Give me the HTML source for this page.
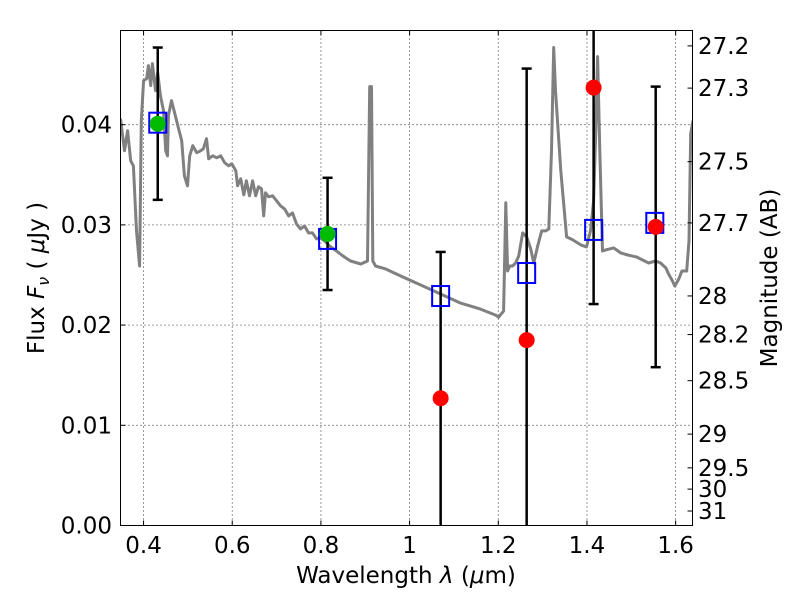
<!DOCTYPE html>
<html><head><meta charset="utf-8"><style>
body{margin:0;background:#fff;}
svg text{font-family:"DejaVu Sans","Liberation Sans",sans-serif;font-size:23px;fill:#000;}
</style></head><body>
<svg id="chart" width="800" height="600" xmlns="http://www.w3.org/2000/svg">
<g id="grid"></g>
<g id="spec"></g>
<g id="marks"></g>
<rect x="120.5" y="30.5" width="572" height="495" fill="none" stroke="#000" stroke-width="1"/>
<g id="axes"></g>
<text x="406" y="583" text-anchor="middle">Wavelength  <tspan font-style="italic">λ</tspan> (<tspan font-style="italic">μ</tspan>m)</text>
<text transform="translate(44,278) rotate(-90)" text-anchor="middle">Flux  <tspan font-style="italic">F<tspan font-size="16" dy="5">ν</tspan></tspan><tspan dy="-5">  ( </tspan><tspan font-style="italic">μ</tspan>Jy )</text>
<text transform="translate(777,278) rotate(-90)" text-anchor="middle">Magnitude (AB)</text>
</svg>
<script>
const specLam=[0.348,0.357,0.364,0.371,0.377,0.384,0.391,0.395,0.400,0.407,0.411,0.416,0.420,0.427,0.432,0.438,0.445,0.450,0.454,0.456,0.463,0.470,0.479,0.486,0.492,0.499,0.504,0.511,0.520,0.529,0.535,0.542,0.547,0.556,0.565,0.574,0.583,0.592,0.599,0.608,0.612,0.619,0.626,0.632,0.639,0.646,0.653,0.659,0.666,0.671,0.675,0.682,0.691,0.700,0.709,0.718,0.727,0.736,0.745,0.754,0.763,0.772,0.781,0.790,0.799,0.808,0.822,0.835,0.844,0.853,0.867,0.890,0.905,0.910,0.914,0.917,0.923,0.946,0.980,1.025,1.070,1.115,1.160,1.194,1.201,1.212,1.217,1.221,1.226,1.232,1.239,1.246,1.255,1.264,1.273,1.280,1.289,1.298,1.307,1.314,1.320,1.325,1.329,1.341,1.354,1.368,1.386,1.399,1.408,1.415,1.420,1.424,1.429,1.435,1.442,1.460,1.476,1.492,1.512,1.521,1.539,1.555,1.566,1.578,1.584,1.593,1.598,1.607,1.614,1.625,1.630,1.634,1.639];
const specFlux=[.0406,.0374,.0394,.0364,.0359,.0294,.0259,.0404,.0444,.0446,.0459,.0439,.0461,.0434,.0452,.0429,.0414,.0374,.0369,.0409,.0424,.0412,.0396,.0384,.0349,.0339,.0369,.0379,.0372,.0374,.0376,.0386,.0366,.0369,.0367,.0369,.0362,.0359,.0361,.0354,.0339,.0346,.0330,.0344,.0329,.0344,.0329,.0338,.0336,.0309,.0332,.0328,.0329,.0324,.0319,.0316,.0309,.0312,.0301,.0296,.0299,.0292,.0292,.0286,.0287,.0284,.0278,.0274,.0271,.0268,.0264,.0261,.0264,.0438,.0438,.0264,.0259,.0256,.0249,.0240,.0231,.0222,.0216,.0210,.0208,.0214,.0322,.0254,.0259,.0259,.0262,.0269,.0292,.0288,.0276,.0262,.0279,.0294,.0294,.0296,.0374,.0477,.0434,.0354,.0288,.0285,.0280,.0278,.0294,.0324,.0394,.0468,.0374,.0274,.0275,.0277,.0272,.0270,.0268,.0266,.0262,.0264,.0262,.0257,.0251,.0244,.0239,.0246,.0254,.0254,.0284,.0391,.0404];
const modelLam=[0.432,0.815,1.070,1.264,1.415,1.553];
const modelFlux=[0.0402,0.0286,0.0229,0.0252,0.0295,0.0302];
const detLam=[0.432,0.815];
const detFlux=[0.0401,0.0291];
const detErr=[0.0076,0.0056];
const ndLam=[1.070,1.264,1.415,1.555];
const ndFlux=[0.0127,0.0185,0.0437,0.0298];
const ndErr=[0.0146,0.0271,0.0216,0.0140];
const xTicks=[0.4,0.6,0.8,1.0,1.2,1.4,1.6];
const xTickLabels=["0.4","0.6","0.8","1","1.2","1.4","1.6"];
const yTicks=[0,0.01,0.02,0.03,0.04];
const yTickLabels=["0.00","0.01","0.02","0.03","0.04"];
const magTicks=[27.2,27.3,27.5,27.7,28,28.2,28.5,29,29.5,30,31];
const magTickLabels=["27.2","27.3","27.5","27.7","28","28.2","28.5","29","29.5","30","31"];

const L=120.5,R=692.5,T=30.5,B=525.5;
const xMin=0.348,xMax=1.638,yMin=0,yMax=0.0494;
const X=v=>L+(v-xMin)/(xMax-xMin)*(R-L);
const Y=v=>B-(v-yMin)/(yMax-yMin)*(B-T);
const magToFlux=m=>Math.pow(10,(23.9-m)/2.5);
const NS="http://www.w3.org/2000/svg";
function mk(tag,parent,attrs){const e=document.createElementNS(NS,tag);for(const k in attrs)e.setAttribute(k,attrs[k]);parent.appendChild(e);return e;}
const grid=document.getElementById('grid'),axes=document.getElementById('axes'),spec=document.getElementById('spec'),marks=document.getElementById('marks');

xTicks.forEach((t,i)=>{const x=X(t);
 const g=mk('line',grid,{x1:x,x2:x,y1:T,y2:B,stroke:'#000','stroke-dasharray':'1,3','stroke-width':0.8});
 
 const a=mk('line',axes,{x1:x,x2:x,y1:B,y2:B-5,stroke:'#000'});
 const b=mk('line',axes,{x1:x,x2:x,y1:T,y2:T+5,stroke:'#000'});
 const tx=mk('text',axes,{x:x,y:553,'text-anchor':'middle'});tx.textContent=xTickLabels[i];
 });
yTicks.forEach((t,i)=>{const y=Y(t);
 const g=mk('line',grid,{x1:L,x2:R,y1:y,y2:y,stroke:'#000','stroke-dasharray':'1,3','stroke-width':0.8});
 
 const a=mk('line',axes,{x1:L,x2:L+5,y1:y,y2:y,stroke:'#000'});
 const tx=mk('text',axes,{x:112,y:y+8,'text-anchor':'end'});tx.textContent=yTickLabels[i];
 });
magTicks.forEach((m,i)=>{const y=Y(magToFlux(m));
 const a=mk('line',axes,{x1:R,x2:R-5,y1:y,y2:y,stroke:'#000'});
 const tx=mk('text',axes,{x:698,y:y+8,'text-anchor':'start'});tx.textContent=magTickLabels[i];
 });

const cp=mk('clipPath',spec,{id:'clip'});mk('rect',cp,{x:L,y:T,width:R-L,height:B-T});
const sp=mk('path',spec,{d:specLam.map((l,i)=>(i?'L':'M')+X(l).toFixed(1)+','+Y(specFlux[i]).toFixed(1)).join(''),fill:'none',stroke:'#808080','stroke-width':3,'clip-path':'url(#clip)','stroke-linejoin':'round'});


const mg=mk('g',marks,{'clip-path':'url(#clip)'});
function errbar(l,f,e,name){const x=X(l),y1=Y(f+e),y2=Y(f-e);
 const ln=mk('line',mg,{x1:x,x2:x,y1:y1,y2:y2,stroke:'#000','stroke-width':2.5});
 [y1,y2].forEach(y=>{const c=mk('line',mg,{x1:x-5,x2:x+5,y1:y,y2:y,stroke:'#000','stroke-width':2.5});});}
detLam.forEach((l,i)=>errbar(l,detFlux[i],detErr[i],'detection-errorbar'));
ndLam.forEach((l,i)=>errbar(l,ndFlux[i],ndErr[i],'upper-errorbar'));
modelLam.forEach((l,i)=>{const r=mk('rect',mg,{x:X(l)-8.5,y:Y(modelFlux[i])-10,width:17,height:20,fill:'none',stroke:'#0000ff','stroke-width':2});
 });
detLam.forEach((l,i)=>{const c=mk('circle',mg,{cx:X(l),cy:Y(detFlux[i]),r:8,fill:'#00bb00'});
 });
ndLam.forEach((l,i)=>{const c=mk('circle',mg,{cx:X(l),cy:Y(ndFlux[i]),r:8,fill:'#ff0000'});
 });
</script>
</body></html>
